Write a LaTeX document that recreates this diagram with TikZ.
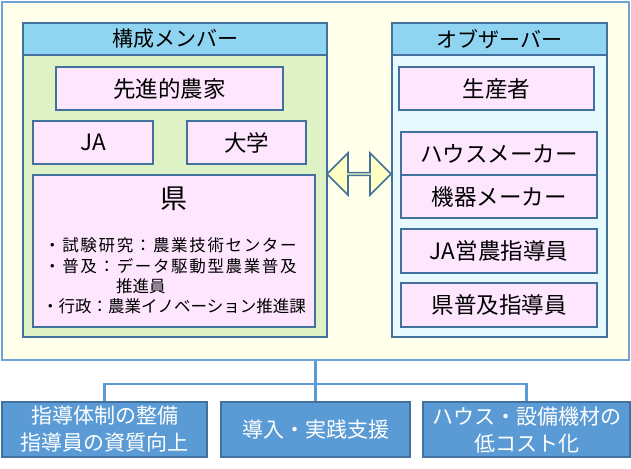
\documentclass[tikz,border=0pt]{standalone}
\usepackage{fontspec}
\setmainfont{Noto Sans CJK JP}
\usetikzlibrary{shapes.arrows,positioning}

\definecolor{framefill}{HTML}{FFFFEA}
\definecolor{framedraw}{HTML}{6FA3D8}
\definecolor{edge}{HTML}{41719C}
\definecolor{headfill}{HTML}{8FD4F0}
\definecolor{memfill}{HTML}{DFF2C6}
\definecolor{obsfill}{HTML}{E6FAFD}
\definecolor{pinkfill}{HTML}{FEE6FE}
\definecolor{arrowfill}{HTML}{FFFFC4}
\definecolor{goalfill}{HTML}{5B9BD5}
\definecolor{wirecol}{HTML}{5B9BD5}

\newcommand{\boxfont}{\fontsize{22.5}{25}\selectfont}
\newcommand{\listfont}{\fontsize{16.5}{19}\selectfont}
\newcommand{\spaced}[1]{{\addfontfeatures{LetterSpace=10}#1}}

\tikzset{
    %Define style for the big frame
    frame/.style={
           draw=framedraw,
           line width=1.5pt,
           fill=framefill},
    %Define style for panel titles and bodies
    head/.style={
           rectangle,
           draw=edge,
           line width=1.6pt,
           fill=headfill,
           font=\fontsize{21}{23}\selectfont},
    panel/.style={
           rectangle,
           draw=edge,
           line width=1.6pt},
    %Define style for boxes
    punkt/.style={
           rectangle,
           draw=edge,
           line width=1.6pt,
           fill=pinkfill,
           font=\boxfont,
           text centered},
    goal/.style={
           rectangle,
           draw=edge,
           line width=1.6pt,
           fill=goalfill,
           text=white,
           align=center,
           font=\fontsize{21}{27}\selectfont},
    % Define line styles
    wire/.style={
           draw=wirecol,
           line width=2.6pt},
    twoway/.style={
           double arrow,
           draw=edge,
           line width=1.6pt,
           fill=arrowfill,
           inner sep=0pt,
           double arrow head extend=11pt}
}

\begin{document}
\begin{tikzpicture}[x=1pt, y=-1pt]
 \useasboundingbox (0,0) rectangle (631,468);
 % council frame
 \node [frame, minimum width=627, minimum height=358] (council) at (315.5,181) {};

 % members
 \node [panel, fill=memfill, minimum width=304, minimum height=282] (members) at (175,196) {};
 \node [head, minimum width=304, minimum height=32] (memtitle) at (175,39) {構成メンバー};
 \node [punkt, minimum width=227, minimum height=43] (farmer) at (169.5,88.5) {先進的農家};
 \node [punkt, minimum width=120, minimum height=43] (ja) at (93,142.5) {JA};
 \node [punkt, minimum width=119, minimum height=43] (univ) at (246.5,142.5) {大学};
 \node [punkt, minimum width=282, minimum height=152] (pref) at (174,251) {};
 \node [font=\fontsize{27}{30}\selectfont] (preftitle) at (174,199) {県};
 \node [font=\listfont, anchor=west, inner sep=0pt] (research) at (44,245) {\spaced{・試験研究：農業技術センター}};
 \node [font=\listfont, anchor=west, inner sep=0pt] (extension) at (44,266) {\spaced{・普及：データ駆動型農業普及}};
 \node [font=\listfont, anchor=west, inner sep=0pt] (promoter) at (116,286) {推進員};
 \node [font=\listfont, anchor=west, inner sep=0pt] (admin) at (42,306) {・行政：農業イノベーション推進課};

 % observers
 \node [panel, fill=obsfill, minimum width=215, minimum height=282] (observers) at (499.5,196) {};
 \node [head, minimum width=215, minimum height=32] (obstitle) at (499.5,39) {オブザーバー};
 \node [punkt, minimum width=195, minimum height=43] (grower) at (496.5,88.5) {生産者};
 \node [punkt, minimum width=196, minimum height=43] (house) at (499,153.5) {ハウスメーカー};
 \node [punkt, minimum width=196, minimum height=43] (machine) at (499,196.5) {機器メーカー};
 \node [punkt, minimum width=196, minimum height=44] (jaguide) at (499,251) {JA営農指導員};
 \node [punkt, minimum width=196, minimum height=44] (prefguide) at (499,305) {県普及指導員};

 % exchange between both panels
 \node [twoway, minimum height=64, minimum width=42] (exchange) at (359,174) {};

 % aims
 \node [goal, minimum width=205, minimum height=55] (training) at (104.5,429.5) {指導体制の整備\\指導員の資質向上};
 \node [goal, minimum width=189, minimum height=55] (support) at (315.5,429.5) {導入・実践支援};
 \node [goal, minimum width=207, minimum height=55] (lowcost) at (526.5,429.5) {ハウス・設備機材の\\低コスト化};

 % paths
 \coordinate (bus) at (315.5,384);
 \draw [wire] (council.south) -- (support.north);
 \draw [wire] (training.north) |- (bus) -| (lowcost.north);
\end{tikzpicture}
\end{document}
